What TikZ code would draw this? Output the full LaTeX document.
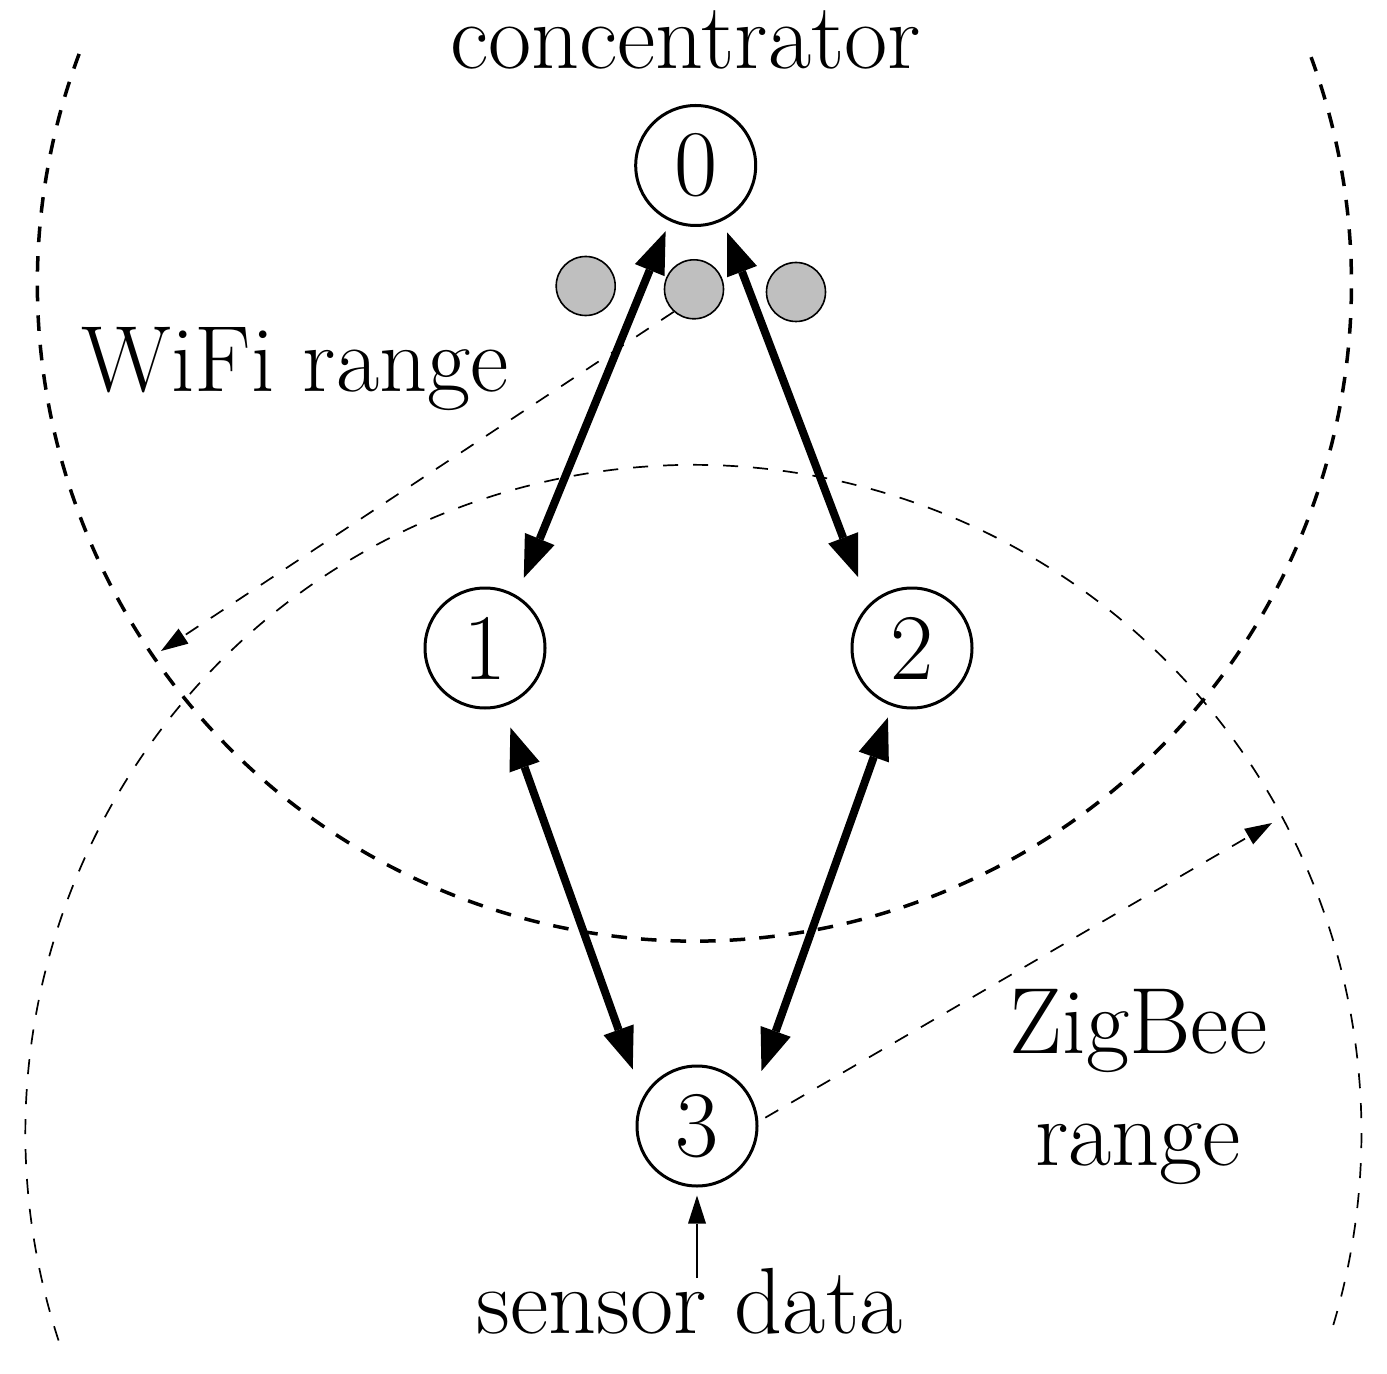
\documentclass[tikz,border=0pt]{standalone}
\usetikzlibrary{arrows.meta}
\begin{document}
\begin{tikzpicture}[x=0.5pt,y=-0.5pt,
  bigfont/.style={font=\fontsize{47}{56}\selectfont},
  station/.style={circle,draw,line width=1.5pt,minimum size=60pt,inner sep=0pt,bigfont},
  dot/.style={circle,draw,line width=0.8pt,fill=black!25,minimum size=29.5pt,inner sep=0pt},
  lbl/.style={inner sep=0pt,anchor=base,bigfont},
  link/.style={line width=4pt,{Triangle[length=21pt,width=16pt,line width=0pt]}-{Triangle[length=21pt,width=16pt,line width=0pt]}},
  wifiarc/.style={line width=1.75pt,dash pattern=on 7.8pt off 7pt},
  zigarc/.style={line width=0.85pt,dash pattern=on 7.5pt off 7.5pt},
  pointer/.style={line width=0.85pt,dash pattern=on 7.5pt off 7.5pt,-{Triangle[length=13.5pt,width=9pt,line width=0pt]}},
  feed/.style={line width=0.7pt,-{Triangle[length=14pt,width=9pt,line width=0pt]}}
]
\useasboundingbox (0,0) rectangle (1387,1374);

% range arcs
\draw[wifiarc] (694.5,284) ++(-159.5:657) arc[start angle=-159.5, end angle=-380.2, radius=657];
\draw[zigarc] (693.5,1133) ++(-198.1:668) arc[start angle=-198.1, end angle=16.7, radius=668];

% stations
\node[station] (n0) at (695.7,165.5) {0};
\node[station] (n1) at (485,648) {1};
\node[station] (n2) at (912,648) {2};
\node[station] (n3) at (697,1126) {3};

% gray dots
\node[dot] (g1) at (585.7,286) {};
\node[dot] (g2) at (694,289.3) {};
\node[dot] (g3) at (796,292) {};

% labels
\node[lbl] (conc) at (685.5,69) {concentrator};
\node[lbl] (wifi) at (295,392) {WiFi range};
\node[lbl] (zig1) at (1138.5,1053) {ZigBee};
\node[lbl] (zig2) at (1138,1165) {range};
\node[lbl] (sensor) at (689.5,1333) {sensor data};

% links
\draw[link, shorten <=5.4pt, shorten >=9.4pt] (n0.-115.1) -- (n1.59.6);
\draw[link, shorten <=6.2pt, shorten >=14.65pt] (n0.-64.1) -- (n2.135.7);
\draw[link, shorten <=11pt, shorten >=14.75pt] (n1.-73.1) -- (n3.152.5);
\draw[link, shorten <=6pt, shorten >=14.4pt] (n2.-109) -- (n3.27.2);

% pointers
\coordinate (wtip) at (161,651);
\coordinate (ztip) at (1272,823);
\coordinate (sd) at (697,1278);
\draw[pointer] (g2.228) -- (wtip);
\draw[pointer, shorten <=4pt] (n3.4) -- (ztip);
\draw[feed, shorten >=4pt] (sd) -- (n3.south);
\end{tikzpicture}
\end{document}
